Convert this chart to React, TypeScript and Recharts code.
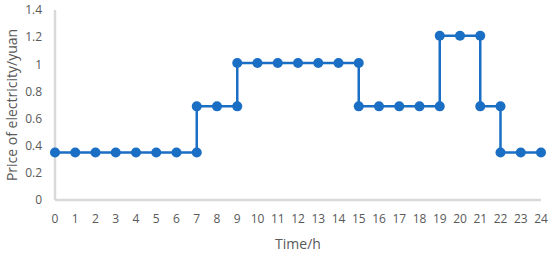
import { Line, LineChart, XAxis, YAxis } from 'recharts';

// Excel-style step series: hours where the tariff changes appear twice
const hours = [0, 1, 2, 3, 4, 5, 6, 7, 7, 8, 9, 9, 10, 11, 12, 13, 14, 15, 15, 16, 17, 18, 19, 19, 20, 21, 21, 22, 22, 23, 24];
const prices = [
  0.35, 0.35, 0.35, 0.35, 0.35, 0.35, 0.35, 0.35, 0.69, 0.69, 0.69, 1.01, 1.01, 1.01, 1.01, 1.01, 1.01, 1.01, 0.69, 0.69,
  0.69, 0.69, 0.69, 1.21, 1.21, 1.21, 0.69, 0.69, 0.35, 0.35, 0.35,
];
const hourTicks = [0, 1, 2, 3, 4, 5, 6, 7, 8, 9, 10, 11, 12, 13, 14, 15, 16, 17, 18, 19, 20, 21, 22, 23, 24];
const priceTicks = [0, 0.2, 0.4, 0.6, 0.8, 1, 1.2, 1.4];

const data = hours.map((t, i) => ({ t, price: prices[i] }));

const BLUE = '#1a6ec4';
const AXIS = '#d9d9d9';
const TEXT = '#595959';
const FONT = '"Open Sans", sans-serif';

export default function App() {
  return (
    <div style={{ position: 'absolute', left: 0, top: 0, background: '#fff' }}>
      <LineChart width={550} height={255} data={data} margin={{ top: 10, right: 9, bottom: 0, left: 0 }}>
        <XAxis
          dataKey="t"
          type="number"
          domain={[0, 24]}
          ticks={hourTicks}
          interval={0}
          height={55}
          axisLine={{ stroke: AXIS, strokeWidth: 2.5 }}
          tickLine={false}
          tickSize={0}
          tickMargin={14}
          tick={{ fill: TEXT, fontSize: 12, fontFamily: FONT }}
          label={{ value: 'Time/h', position: 'insideBottom', offset: 6, fill: TEXT, fontSize: 14, fontFamily: FONT }}
        />
        <YAxis
          type="number"
          domain={[0, 1.4]}
          ticks={priceTicks}
          interval={0}
          width={55}
          axisLine={{ stroke: AXIS, strokeWidth: 2.5 }}
          tickLine={false}
          tickSize={0}
          tickMargin={13}
          tick={{ fill: TEXT, fontSize: 12, fontFamily: FONT }}
          label={{
            value: 'Price of electricity/yuan',
            angle: -90,
            position: 'center',
            dx: -15,
            fill: TEXT,
            fontSize: 14,
            fontFamily: FONT,
          }}
        />
        <Line
          type="linear"
          dataKey="price"
          stroke={BLUE}
          strokeWidth={2.5}
          dot={{ r: 5, fill: BLUE, stroke: BLUE, strokeWidth: 0 }}
          activeDot={false}
          isAnimationActive={false}
        />
      </LineChart>
    </div>
  );
}
